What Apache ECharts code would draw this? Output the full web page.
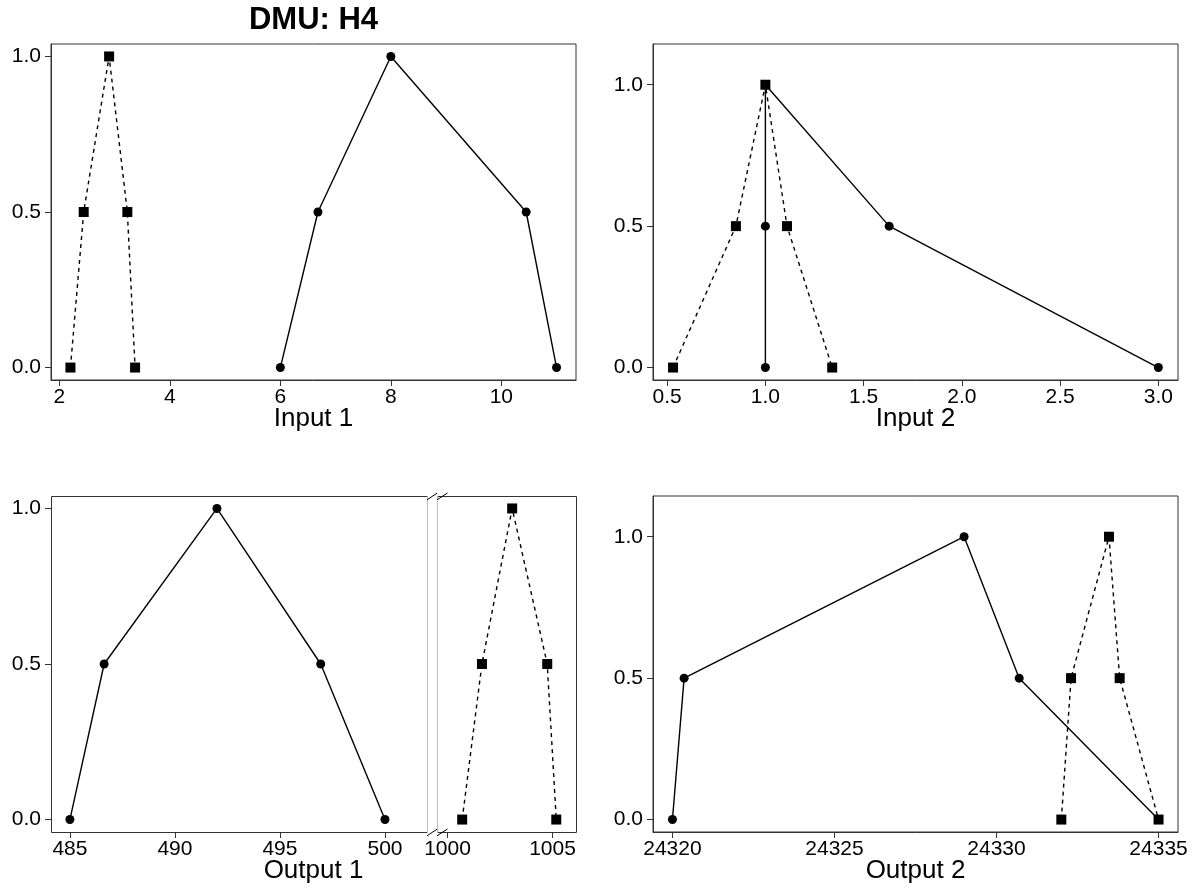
<!DOCTYPE html>
<html><head><meta charset="utf-8">
<script src="https://cdn.jsdelivr.net/npm/echarts@6.0.0/dist/echarts.min.js"></script>
<style>html,body{margin:0;padding:0;background:#fff}#c{width:1195px;height:888px}</style>
</head><body><div id="c"></div>
<script>
// ---- data ----
const membership = [0, 0.5, 1, 0.5, 0];
const input1Solid = [6, 6.68, 8, 10.45, 11];
const input1Dashed = [2.2, 2.44, 2.9, 3.23, 3.37];
const input2Solid = [1, 1, 1, 1.63, 3];
const input2Dashed = [0.53, 0.85, 1, 1.11, 1.34];
const output1Solid = [485, 486.63, 492, 496.94, 500];
const output1Dashed = [1000.7, 1001.64, 1003.08, 1004.75, 1005.18];
const output2Solid = [24320, 24320.36, 24329, 24330.7, 24335];
const output2Dashed = [24332, 24332.3, 24333.47, 24333.8, 24335];

const yTicks = [0, 0.5, 1];
const input1Ticks = [2, 4, 6, 8, 10];
const input2Ticks = [0.5, 1, 1.5, 2, 2.5, 3];
const output1LeftTicks = [485, 490, 495, 500];
const output1RightTicks = [1000, 1005];
const output2Ticks = [24320, 24325, 24330, 24335];

const titleText = 'DMU: H4';
const axisNames = ['Input 1', 'Input 2', 'Output 1', 'Output 2'];

// ---- layout ----
const FONT = '"Liberation Sans", Arial, Helvetica, sans-serif';
const BORDER = '#333';
const grids = [
  {left: 51,  top: 44,  width: 525, height: 336},
  {left: 653, top: 44,  width: 525, height: 336},
  {left: 51,  top: 496, width: 376, height: 336},
  {left: 437, top: 496, width: 139, height: 336},
  {left: 653, top: 496, width: 525, height: 336}
];

function mkX(gi, min, max, ticks, fmt) {
  return {
    type: 'value', gridIndex: gi, min: min, max: max,
    splitLine: {show: false},
    axisLine: {show: gi !== 2 && gi !== 3, onZero: false, lineStyle: {color: BORDER, width: 1}},
    axisTick: {show: true, length: 6, customValues: ticks, lineStyle: {color: BORDER, width: 1}},
    axisLabel: {show: true, customValues: ticks, margin: 7, color: '#000', fontSize: 21, fontFamily: FONT,
      formatter: fmt || (v => String(v))}
  };
}
function mkY(gi, min, max, show) {
  return {
    type: 'value', gridIndex: gi, min: min, max: max,
    splitLine: {show: false},
    axisLine: {show: show && gi !== 2, onZero: false, lineStyle: {color: BORDER, width: 1}},
    axisTick: {show: show, length: 6, customValues: yTicks, lineStyle: {color: BORDER, width: 1}},
    axisLabel: {show: show, customValues: yTicks, margin: 10, color: '#000', fontSize: 21, fontFamily: FONT,
      formatter: v => v.toFixed(1)}
  };
}
function pairs(xs) { return xs.map((x, i) => [x, membership[i]]); }
function mkS(idx, xs, dashed) {
  return {
    type: 'line', xAxisIndex: idx, yAxisIndex: idx, data: pairs(xs),
    symbol: dashed ? 'rect' : 'circle', symbolSize: dashed ? 10 : 9,
    itemStyle: {color: '#000'},
    lineStyle: {color: '#000', width: 1.4, type: dashed ? [4, 4] : 'solid'},
    z: dashed ? 4 : 3, silent: true, clip: false
  };
}

const fx1 = v => v.toFixed(1);
const xAxes = [
  mkX(0, 1.848, 11.352, input1Ticks),
  mkX(1, 0.428, 3.10, input2Ticks, fx1),
  mkX(2, 484.1, 502.0, output1LeftTicks),
  mkX(3, 999.5, 1006.12, output1RightTicks),
  mkX(4, 24319.4, 24335.6, output2Ticks)
];
const yAxes = [
  mkY(0, -0.04, 1.04, true),
  mkY(1, -0.044, 1.144, true),
  mkY(2, -0.04, 1.04, true),
  mkY(3, -0.04, 1.04, false),
  mkY(4, -0.044, 1.144, true)
];
const series = [
  mkS(0, input1Solid, false), mkS(0, input1Dashed, true),
  mkS(1, input2Solid, false), mkS(1, input2Dashed, true),
  mkS(2, output1Solid, false), mkS(3, output1Dashed, true),
  mkS(4, output2Solid, false), mkS(4, output2Dashed, true)
];

// ---- decorations ----
function txt(t, x, y, font) {
  return {type: 'text', x: x, y: y, silent: true,
    style: {text: t, font: font, fill: '#000', textAlign: 'center', textVerticalAlign: 'middle'}};
}
function ln(x1, y1, x2, y2, color) {
  return {type: 'line', silent: true, z: 10,
    shape: {x1: x1, y1: y1, x2: x2, y2: y2}, style: {stroke: color, lineWidth: 1}};
}
const gA = grids[2], gB = grids[3];
const aR = gA.left + gA.width, bL = gB.left, bR = gB.left + gB.width;
const pT = gA.top + 0.5, pB = gA.top + gA.height + 0.5;
const c0 = grids[0].left + grids[0].width / 2, c1 = grids[1].left + grids[1].width / 2;
const c2 = (gA.left + bR) / 2;
const graphics = [
  txt(titleText, c0, 20, 'bold 31px ' + FONT),
  txt(axisNames[0], c0, 419, '26px ' + FONT),
  txt(axisNames[1], c1, 419, '26px ' + FONT),
  txt(axisNames[2], c2, 871, '26px ' + FONT),
  txt(axisNames[3], c1, 871, '26px ' + FONT),
  // broken-axis boxes
  ln(gA.left + 0.5, pT, aR + 0.5, pT, BORDER),
  ln(gA.left + 0.5, pB, aR + 0.5, pB, BORDER),
  ln(gA.left + 0.5, pT, gA.left + 0.5, pB, BORDER),
  ln(aR + 0.5, pT, aR + 0.5, pB, '#bbb'),
  ln(bL + 0.5, pT, bR + 0.5, pT, BORDER),
  ln(bL + 0.5, pB, bR + 0.5, pB, BORDER),
  ln(bR + 0.5, pT, bR + 0.5, pB, BORDER),
  ln(bL + 0.5, pT, bL + 0.5, pB, '#bbb'),
  // break slashes
  ln(aR, pT + 3.3, bL, pT - 3.3, '#000'),
  ln(bL, pT + 3.3, bL + 10.5, pT - 3.5, '#000'),
  ln(aR, pB + 3.3, bL, pB - 3.3, '#000'),
  ln(bL, pB + 3.3, bL + 10.5, pB - 3.5, '#000')
];

const chart = echarts.init(document.getElementById('c'), null, {renderer: 'canvas'});
chart.setOption({
  animation: false,
  backgroundColor: '#fff',
  grid: grids.map((g, i) => Object.assign({show: i !== 2 && i !== 3, borderColor: BORDER, borderWidth: 1,
    backgroundColor: 'transparent', containLabel: false}, g)),
  xAxis: xAxes,
  yAxis: yAxes,
  series: series,
  graphic: graphics
});
</script></body></html>
